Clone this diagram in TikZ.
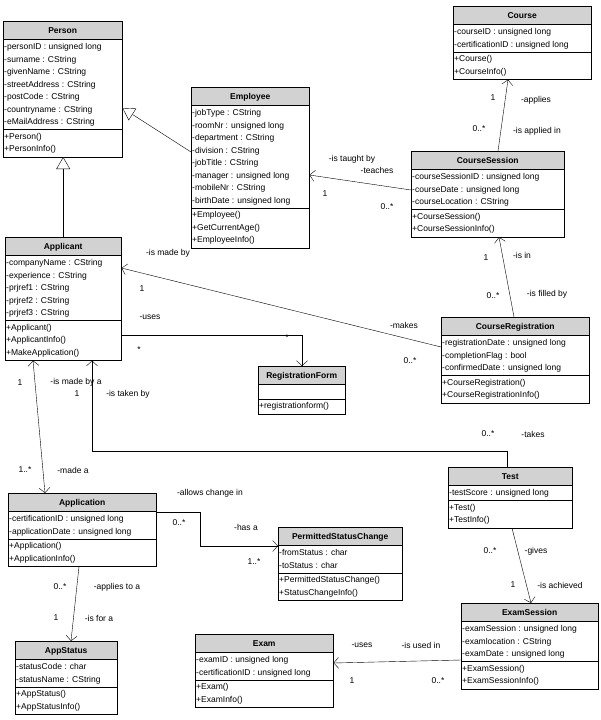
\documentclass[tikz,border=0pt]{standalone}
\usepackage{fontspec}
\setmainfont{Liberation Sans}
\usetikzlibrary{shapes.multipart,arrows.meta,calc}
\tikzset{
  umlclass/.style={draw,rectangle split,rectangle split parts=3,
    rectangle split part fill={gray!35,white,white},
    rectangle split part align={center,left,left},
    anchor=north west,inner xsep=1pt,inner ysep=1pt,
    font=\fontsize{8.5}{12.5}\selectfont},
  assoc/.style={-{Straight Barb[length=5pt,width=11pt]}},
  gener/.style={-{Triangle[open,length=12pt,width=14pt,fill=white]}},
  lbl/.style={inner sep=0pt,font=\fontsize{8.5}{10}\selectfont}
}
\newcommand{\rows}[1]{\begin{tabular}{@{}l@{}}#1\end{tabular}}
\newcommand{\umlbox}[7]{%
  \node[umlclass] (#1) at (#2,#3)
    {\makebox[\dimexpr#4pt-2pt\relax]{\rule[-4.5pt]{0pt}{16pt}\textbf{#5}}%
     \nodepart{two}#6\nodepart{three}#7};}

\begin{document}
\begin{tikzpicture}[x=1pt,y=-1pt]
  \useasboundingbox (0,0) rectangle (600,720);

  % classes
  \umlbox{Person}{3}{21}{119}{Person}
    {\rows{-personID : unsigned long\\-surname : CString\\-givenName : CString\\-streetAddress : CString\\-postCode : CString\\-countryname : CString\\-eMailAddress : CString}}
    {\rows{+Person()\\+PersonInfo()}}
  \umlbox{Employee}{191}{87}{118}{Employee}
    {\rows{-jobType : CString\\-roomNr : unsigned long\\-department : CString\\-division : CString\\-jobTitle : CString\\-manager : unsigned long\\-mobileNr : CString\\-birthDate : unsigned long}}
    {\rows{+Employee()\\+GetCurrentAge()\\+EmployeeInfo()}}
  \umlbox{Course}{453}{6}{138}{Course}
    {\rows{-courseID : unsigned long\\-certificationID : unsigned long}}
    {\rows{+Course()\\+CourseInfo()}}
  \umlbox{CourseSession}{411}{151}{153}{CourseSession}
    {\rows{-courseSessionID : unsigned long\\-courseDate : unsigned long\\-courseLocation : CString}}
    {\rows{+CourseSession()\\+CourseSessionInfo()}}
  \umlbox{Applicant}{5}{237}{116}{Applicant}
    {\rows{-companyName : CString\\-experience : CString\\-prjref1 : CString\\-prjref2 : CString\\-prjref3 : CString}}
    {\rows{+Applicant()\\+ApplicantInfo()\\+MakeApplication()}}
  \umlbox{RegForm}{258}{366}{87}{RegistrationForm}
    {\rule{0pt}{12pt}}
    {\rows{+registrationform()}}
  \umlbox{CourseReg}{441}{317}{148}{CourseRegistration}
    {\rows{-registrationDate : unsigned long\\-completionFlag : bool\\-confirmedDate : unsigned long}}
    {\rows{+CourseRegistration()\\+CourseRegistrationInfo()}}
  \umlbox{Test}{448}{467}{124}{Test}
    {\rows{-testScore : unsigned long}}
    {\rows{+Test()\\+TestInfo()}}
  \umlbox{Application}{8}{493}{148}{Application}
    {\rows{-certificationID : unsigned long\\-applicationDate : unsigned long}}
    {\rows{+Application()\\+ApplicationInfo()}}
  \umlbox{PSC}{278}{527}{124}{PermittedStatusChange}
    {\rows{-fromStatus : char\\-toStatus : char}}
    {\rows{+PermittedStatusChange()\\+StatusChangeInfo()}}
  \umlbox{AppStatus}{15}{641}{102}{AppStatus}
    {\rows{-statusCode : char\\-statusName : CString}}
    {\rows{+AppStatus()\\+AppStatusInfo()}}
  \umlbox{Exam}{195}{634}{138}{Exam}
    {\rows{-examID : unsigned long\\-certificationID : unsigned long}}
    {\rows{+Exam()\\+ExamInfo()}}
  \umlbox{ExamSession}{461}{603}{137}{ExamSession}
    {\rows{-examSession : unsigned long\\-examlocation : CString\\-examDate : unsigned long}}
    {\rows{+ExamSession()\\+ExamSessionInfo()}}

  % generalisations
  \draw[gener] ($(Employee.north west)+(0,65)$) -- ($(Person.north east)+(0,87)$);
  \draw[gener] (Applicant.north) -- (Applicant.north |- Person.south);

  % associations
  \draw[assoc] ($(CourseSession.north west)+(0,39)$) -- ($(Employee.north east)+(0,88)$);
  \draw[assoc] ($(CourseSession.north west)+(87,0)$) -- ($(Course.south west)+(55,0)$);
  \draw[assoc] ($(CourseReg.north west)+(73,0)$) -- ($(CourseSession.south west)+(88,0)$);
  \draw[assoc] ($(CourseReg.north west)+(0,30)$) -- ($(Applicant.north east)+(0,31)$);
  \draw[assoc] ($(Applicant.north east)+(0,98)$) -| ($(RegForm.north west)+(44,0)$);
  \draw[{Straight Barb[length=5pt,width=11pt]}-{Straight Barb[length=5pt,width=11pt]}]
    ($(Applicant.south west)+(28,0)$) -- ($(Application.north west)+(37,0)$);
  \draw[assoc] ($(Test.north west)+(59,0)$) -- ++(0,-16) -| ($(Applicant.south west)+(87,0)$);
  \draw[assoc] ($(Application.north east)+(0,19)$) -- ++(44,0) |- ($(PSC.north west)+(0,19)$);
  \draw[assoc] ($(Application.south west)+(71,0)$) -- ($(AppStatus.north west)+(56,0)$);
  \draw[assoc] ($(Test.south west)+(64,0)$) -- ($(ExamSession.north west)+(70,0)$);
  \draw[assoc] ($(ExamSession.north west)+(0,57)$) -- ($(Exam.north east)+(0,29)$);

  % labels
  \node[lbl] (l1) at (352,159) {-is taught by};
  \node[lbl] (l2) at (377,170) {-teaches};
  \node[lbl] (l3) at (325,194) {1};
  \node[lbl] (l4) at (387,207) {0..*};
  \node[lbl] (l5) at (493,98) {1};
  \node[lbl] (l6) at (536,100) {-applies};
  \node[lbl] (l7) at (479,129) {0..*};
  \node[lbl] (l8) at (537,131) {-is applied in};
  \node[lbl] (l9) at (486,258) {1};
  \node[lbl] (l10) at (522,255) {-is in};
  \node[lbl] (l11) at (493,296) {0..*};
  \node[lbl] (l12) at (547,294) {-is filled by};
  \node[lbl] (l13) at (168,253) {-is made by};
  \node[lbl] (l14) at (142,289) {1};
  \node[lbl] (l15) at (404,325) {-makes};
  \node[lbl] (l16) at (410,361) {0..*};
  \node[lbl] (l17) at (150,317) {-uses};
  \node[lbl] (l18) at (287,338) {*};
  \node[lbl] (l19) at (139,350) {*};
  \node[lbl] (l20) at (20,383) {1};
  \node[lbl] (l21) at (76,382) {-is made by a};
  \node[lbl] (l22) at (25,470) {1..*};
  \node[lbl] (l23) at (73,470) {-made a};
  \node[lbl] (l24) at (77,394) {1};
  \node[lbl] (l25) at (128,394) {-is taken by};
  \node[lbl] (l26) at (488,434) {0..*};
  \node[lbl] (l27) at (533,434) {-takes};
  \node[lbl] (l28) at (210,493) {-allows change in};
  \node[lbl] (l29) at (179,523) {0..*};
  \node[lbl] (l30) at (246,527) {-has a};
  \node[lbl] (l31) at (254,562) {1..*};
  \node[lbl] (l32) at (60,587) {0..*};
  \node[lbl] (l33) at (117,587) {-applies to a};
  \node[lbl] (l34) at (56,618) {1};
  \node[lbl] (l35) at (99,618) {-is for a};
  \node[lbl] (l36) at (490,551) {0..*};
  \node[lbl] (l37) at (536,551) {-gives};
  \node[lbl] (l38) at (513,585) {1};
  \node[lbl] (l39) at (560,585) {-is achieved};
  \node[lbl] (l40) at (362,645) {-uses};
  \node[lbl] (l41) at (421,645) {-is used in};
  \node[lbl] (l42) at (352,681) {1};
  \node[lbl] (l43) at (438,681) {0..*};
\end{tikzpicture}
\end{document}
